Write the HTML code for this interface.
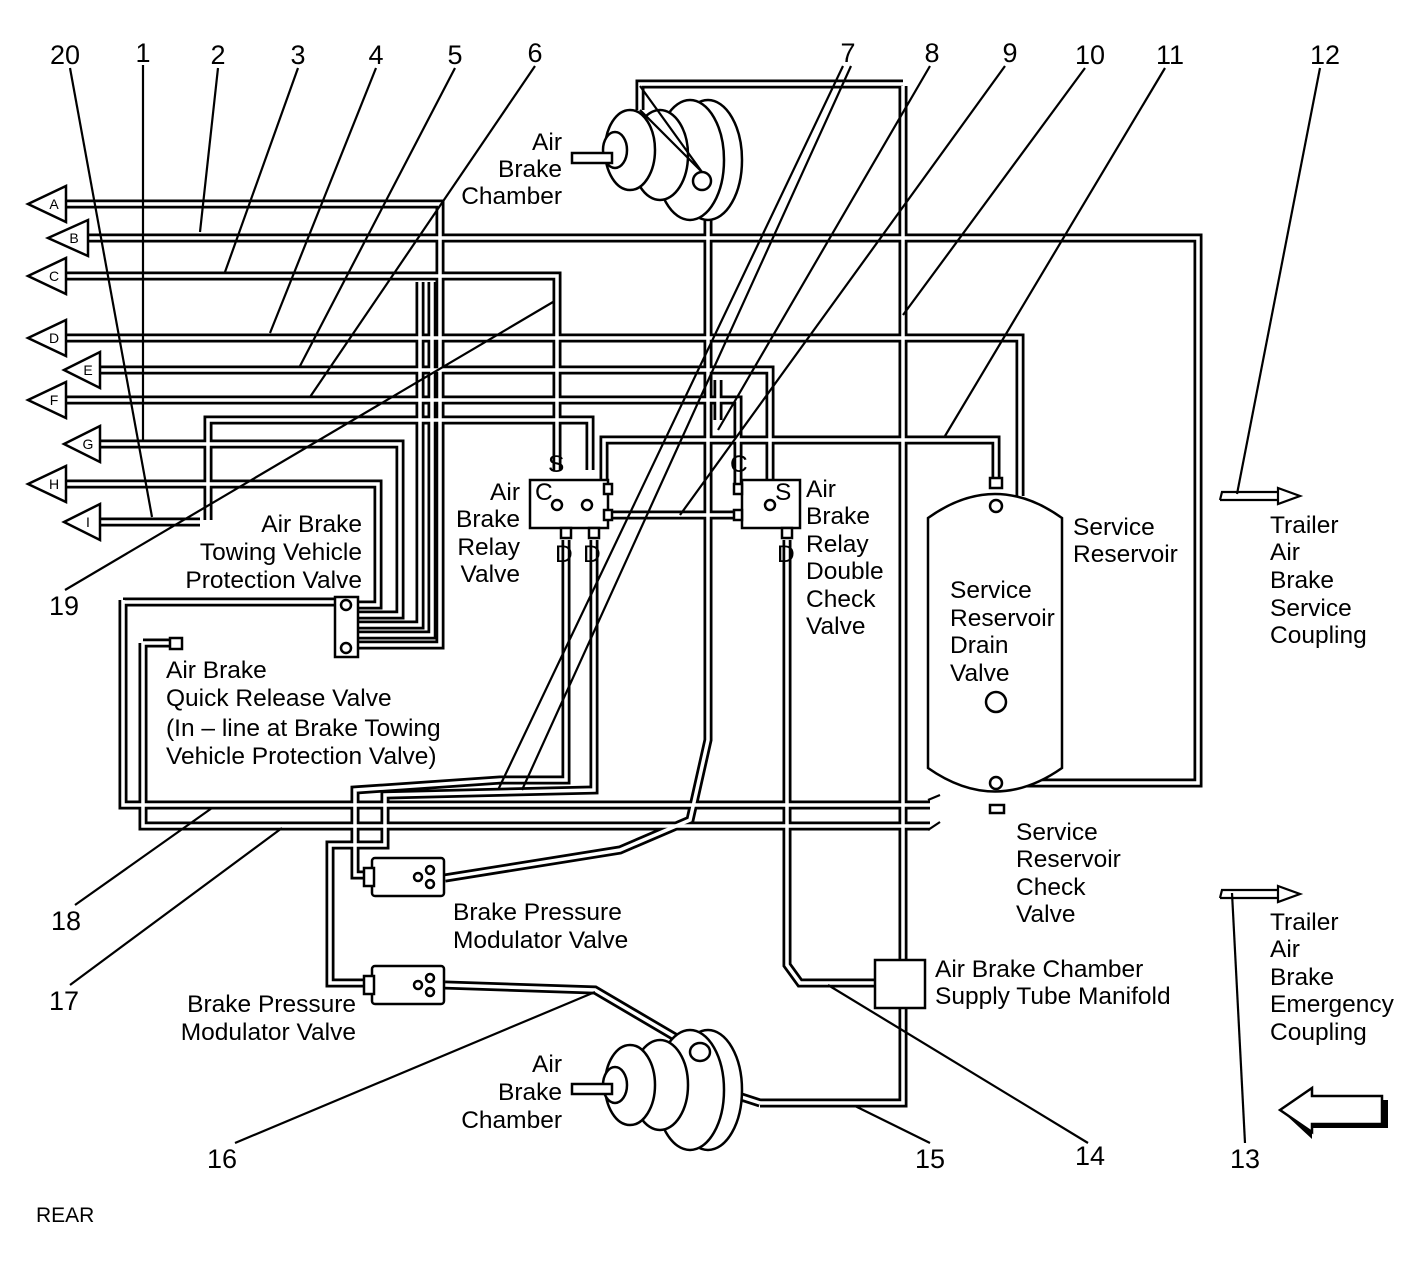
<!DOCTYPE html>
<html><head><meta charset="utf-8"><style>
html,body{margin:0;padding:0;background:#fff}
svg{display:block}
text{font-family:"Liberation Sans",Arial,sans-serif;fill:#000}
.n{font-size:27px}
.l{font-size:24.5px}
.t{fill:none;stroke:#000;stroke-width:9;stroke-linejoin:miter}
.w{fill:none;stroke:#fff;stroke-width:3.5;stroke-linejoin:miter}
.k{fill:none;stroke:#000;stroke-width:2.2}
.b{fill:#fff;stroke:#000;stroke-width:2.5}
</style></head><body>
<svg width="1427" height="1275" viewBox="0 0 1427 1275" xmlns="http://www.w3.org/2000/svg">
<defs>
<g id="tubes">
<polyline points="66,204 440,204 440,645 358,645"/>
<polyline points="88,238 1198,238 1198,783 1000,783"/>
<polyline points="66,276 557,276 557,470"/>
<polyline points="420,282 420,625 358,625"/>
<polyline points="432,282 432,635 358,635"/>
<polyline points="66,338 1020,338 1020,496"/>
<polyline points="100,370 770,370 770,490"/>
<polyline points="66,400 738,400 738,488"/>
<polyline points="100,444 400,444 400,615 358,615"/>
<polyline points="66,484 378,484 378,605 358,605"/>
<polyline points="100,522 200,522"/>
<polyline points="208,520 208,420 590,420 590,470"/>
<polyline points="604,480 604,440 996,440 996,480"/>
<polyline points="608,515 742,515"/>
<polyline points="903,86 903,1103 760,1103"/>
<polyline points="903,84 640,84 640,110"/>
<polyline points="123,600 123,805 930,805"/>
<polyline points="143,643 143,826 930,826"/>
<polyline points="143,643 170,643"/>
<polyline points="335,602 123,602"/>
<polyline points="566,540 566,780 500,780 355,790 355,875 368,875"/>
<polyline points="594,540 594,790 385,795 385,845 330,845 330,983 368,983"/>
<polyline points="787,540 787,965 800,983 875,983"/>
<polyline points="708,190 708,380 708,740 690,820 620,850 445,878"/>
<polyline points="718,380 718,420"/>
<polyline points="445,985 595,990 680,1040 720,1090 760,1103"/>
</g>
</defs>
<use href="#tubes" class="t"/>
<use href="#tubes" class="w"/>

<g class="b">
<polygon points="28,204 66,186 66,222"/>
<polygon points="48,238 88,220 88,256"/>
<polygon points="28,276 66,258 66,294"/>
<polygon points="28,338 66,320 66,356"/>
<polygon points="64,370 100,352 100,388"/>
<polygon points="28,400 66,382 66,418"/>
<polygon points="64,444 100,426 100,462"/>
<polygon points="28,484 66,466 66,502"/>
<polygon points="64,522 100,504 100,540"/>
</g>
<g font-size="14" text-anchor="middle">
<text x="54" y="209">A</text><text x="74" y="243">B</text><text x="54" y="281">C</text>
<text x="54" y="343">D</text><text x="88" y="375">E</text><text x="54" y="405">F</text>
<text x="88" y="449">G</text><text x="54" y="489">H</text><text x="88" y="527">I</text>
</g>

<rect x="530" y="480" width="78" height="48" class="b"/>
<rect x="742" y="480" width="58" height="48" class="b"/>
<rect x="604" y="484" width="8" height="10" class="b"/>
<rect x="604" y="510" width="8" height="10" class="b"/>
<rect x="734" y="484" width="8" height="10" class="b"/>
<rect x="734" y="510" width="8" height="10" class="b"/>
<rect x="561" y="528" width="10" height="10" class="b"/>
<rect x="589" y="528" width="10" height="10" class="b"/>
<rect x="782" y="528" width="10" height="10" class="b"/>
<circle cx="557" cy="505" r="5" class="b"/><circle cx="587" cy="505" r="5" class="b"/>
<circle cx="770" cy="505" r="5" class="b"/>
<text x="548" y="472" class="l">S</text><text x="535" y="500" class="l">C</text>
<text x="555" y="562" class="l">D</text><text x="583" y="562" class="l">D</text>
<text x="730" y="472" class="l">C</text><text x="775" y="500" class="l">S</text>
<text x="777" y="562" class="l">D</text>

<rect x="335" y="597" width="23" height="60" class="b"/>
<circle cx="346" cy="605" r="5" class="b"/><circle cx="346" cy="648" r="5" class="b"/>
<rect x="170" y="638" width="12" height="11" class="b"/>

<path d="M928,518 Q995,470 1062,518 L1062,768 Q995,815 928,768 Z" class="b"/>
<rect x="990" y="478" width="12" height="10" class="b"/>
<rect x="990" y="805" width="14" height="8" class="b"/>
<circle cx="996" cy="506" r="6" class="b"/>
<circle cx="996" cy="783" r="6" class="b"/>
<circle cx="996" cy="702" r="10" class="b"/>

<rect x="875" y="960" width="50" height="48" class="b"/>

<g class="b">
<rect x="372" y="858" width="72" height="38" rx="3"/>
<rect x="364" y="868" width="10" height="18"/>
<circle cx="418" cy="877" r="4"/><circle cx="430" cy="870" r="4"/><circle cx="430" cy="884" r="4"/>
<rect x="372" y="966" width="72" height="38" rx="3"/>
<rect x="364" y="976" width="10" height="18"/>
<circle cx="418" cy="985" r="4"/><circle cx="430" cy="978" r="4"/><circle cx="430" cy="992" r="4"/>
</g>

<g class="b">
<ellipse cx="708" cy="160" rx="34" ry="60"/>
<ellipse cx="690" cy="160" rx="34" ry="60"/>
<ellipse cx="660" cy="155" rx="28" ry="45"/>
<ellipse cx="630" cy="150" rx="25" ry="40"/>
<ellipse cx="615" cy="150" rx="12" ry="18"/>
<rect x="572" y="153" width="40" height="10"/>
<circle cx="702" cy="181" r="9"/>
<ellipse cx="708" cy="1090" rx="34" ry="60"/>
<ellipse cx="690" cy="1090" rx="34" ry="60"/>
<ellipse cx="660" cy="1085" rx="28" ry="45"/>
<ellipse cx="630" cy="1085" rx="25" ry="40"/>
<ellipse cx="615" cy="1085" rx="12" ry="18"/>
<rect x="572" y="1084" width="40" height="10"/>
<ellipse cx="700" cy="1052" rx="10" ry="9"/>
</g>
<polyline points="640,86 702,172 640,110" class="k"/>

<g class="k">
<polyline points="1220,500 1222,492 1278,492"/><polyline points="1220,500 1278,500"/>
<polygon points="1278,488 1300,496 1278,504" fill="#fff"/>
<polyline points="1220,898 1222,890 1278,890"/><polyline points="1220,898 1278,898"/>
<polygon points="1278,886 1300,894 1278,902" fill="#fff"/>
</g>
<polygon points="1286,1115 1312,1139 1312,1128 1388,1128 1388,1100 1318,1100 1318,1096 1286,1115" fill="#000"/>
<polygon points="1280,1110 1312,1088 1312,1096 1382,1096 1382,1124 1312,1124 1312,1132" fill="#fff" stroke="#000" stroke-width="2.5"/>

<g class="k">
<line x1="70" y1="68" x2="152" y2="517"/>
<line x1="143" y1="65" x2="143" y2="440"/>
<line x1="218" y1="68" x2="200" y2="232"/>
<line x1="298" y1="68" x2="225" y2="272"/>
<line x1="376" y1="68" x2="270" y2="333"/>
<line x1="455" y1="68" x2="300" y2="366"/>
<line x1="535" y1="66" x2="310" y2="397"/>
<line x1="843" y1="66" x2="498" y2="790"/>
<line x1="851" y1="66" x2="522" y2="790"/>
<line x1="930" y1="66" x2="718" y2="430"/>
<line x1="1005" y1="66" x2="680" y2="515"/>
<line x1="1085" y1="68" x2="903" y2="315"/>
<line x1="1165" y1="68" x2="945" y2="436"/>
<line x1="1320" y1="68" x2="1237" y2="494"/>
<line x1="1245" y1="1143" x2="1232" y2="893"/>
<line x1="1088" y1="1143" x2="828" y2="985"/>
<line x1="930" y1="1143" x2="855" y2="1106"/>
<line x1="235" y1="1143" x2="595" y2="992"/>
<line x1="70" y1="985" x2="282" y2="828"/>
<line x1="75" y1="905" x2="212" y2="808"/>
<line x1="65" y1="590" x2="553" y2="302"/>
<line x1="928" y1="800" x2="940" y2="795"/><line x1="928" y1="830" x2="940" y2="822"/>
</g>

<g class="n" text-anchor="middle">
<text x="65" y="64">20</text><text x="143" y="62">1</text><text x="218" y="64">2</text>
<text x="298" y="64">3</text><text x="376" y="64">4</text><text x="455" y="64">5</text>
<text x="535" y="62">6</text><text x="848" y="62">7</text><text x="932" y="62">8</text>
<text x="1010" y="62">9</text><text x="1090" y="64">10</text><text x="1170" y="64">11</text>
<text x="1325" y="64">12</text><text x="64" y="615">19</text><text x="66" y="930">18</text>
<text x="64" y="1010">17</text><text x="222" y="1168">16</text><text x="930" y="1168">15</text>
<text x="1090" y="1165">14</text><text x="1245" y="1168">13</text>
</g>

<g class="l">
<text x="562" y="150" text-anchor="end">Air</text>
<text x="562" y="177" text-anchor="end">Brake</text>
<text x="562" y="204" text-anchor="end">Chamber</text>
<text x="562" y="1072" text-anchor="end">Air</text>
<text x="562" y="1100" text-anchor="end">Brake</text>
<text x="562" y="1128" text-anchor="end">Chamber</text>
<text x="362" y="532" text-anchor="end">Air Brake</text>
<text x="362" y="560" text-anchor="end">Towing Vehicle</text>
<text x="362" y="588" text-anchor="end">Protection Valve</text>
<text x="520" y="500" text-anchor="end">Air</text>
<text x="520" y="527" text-anchor="end">Brake</text>
<text x="520" y="555" text-anchor="end">Relay</text>
<text x="520" y="582" text-anchor="end">Valve</text>
<text x="806" y="497">Air</text><text x="806" y="524">Brake</text><text x="806" y="552">Relay</text>
<text x="806" y="579">Double</text><text x="806" y="607">Check</text><text x="806" y="634">Valve</text>
<text x="166" y="678">Air Brake</text>
<text x="166" y="706">Quick Release Valve</text>
<text x="166" y="736">(In – line at Brake Towing</text>
<text x="166" y="764">Vehicle Protection Valve)</text>
<text x="1073" y="535">Service</text><text x="1073" y="562">Reservoir</text>
<text x="950" y="598">Service</text><text x="950" y="626">Reservoir</text>
<text x="950" y="653">Drain</text><text x="950" y="681">Valve</text>
<text x="1016" y="840">Service</text><text x="1016" y="867">Reservoir</text>
<text x="1016" y="895">Check</text><text x="1016" y="922">Valve</text>
<text x="453" y="920">Brake Pressure</text><text x="453" y="948">Modulator Valve</text>
<text x="356" y="1012" text-anchor="end">Brake Pressure</text>
<text x="356" y="1040" text-anchor="end">Modulator Valve</text>
<text x="935" y="977">Air Brake Chamber</text>
<text x="935" y="1004">Supply Tube Manifold</text>
<text x="1270" y="533">Trailer</text><text x="1270" y="560">Air</text><text x="1270" y="588">Brake</text>
<text x="1270" y="616">Service</text><text x="1270" y="643">Coupling</text>
<text x="1270" y="930">Trailer</text><text x="1270" y="957">Air</text><text x="1270" y="985">Brake</text>
<text x="1270" y="1012">Emergency</text><text x="1270" y="1040">Coupling</text>
<text x="36" y="1222" font-size="21">REAR</text>
</g>
</svg>
</body></html>
